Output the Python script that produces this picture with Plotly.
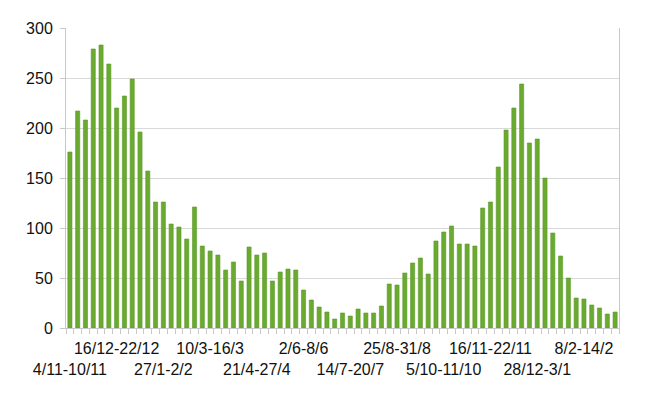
import plotly.graph_objects as go

values = [176, 217, 208, 279, 283, 264, 220, 232, 249, 196,
          157, 126, 126, 104, 101, 89, 121, 82, 77, 73,
          58, 66, 47, 81, 73, 75, 47, 56, 59, 58,
          38, 28, 21, 16, 9, 15, 12, 19, 15, 15,
          22, 44, 43, 55, 65, 70, 54, 87, 96, 102,
          84, 84, 82, 120, 126, 161, 198, 220, 244, 185,
          189, 150, 95, 72, 50, 30, 29, 23, 20, 14, 16]

tick_labels = ["4/11-10/11", "16/12-22/12", "27/1-2/2", "10/3-16/3",
               "21/4-27/4", "2/6-8/6", "14/7-20/7", "25/8-31/8",
               "5/10-11/10", "16/11-22/11", "28/12-3/1", "8/2-14/2"]
label_step = 6

x = list(range(len(values)))
tickvals = [i * label_step for i in range(len(tick_labels))]
ticktext = [("<br>" + t) if i % 2 == 0 else t for i, t in enumerate(tick_labels)]
boundaries = [i - 0.5 for i in range(len(values) + 1)]

fig = go.Figure(go.Bar(
    x=x, y=values,
    marker=dict(color="#6aaa30", line=dict(color="#5b9a26", width=0.6)),
))

fig.update_layout(
    width=650, height=393,
    margin=dict(l=66, r=31, t=28, b=65),
    paper_bgcolor="white", plot_bgcolor="white",
    bargap=0.47,
    showlegend=False,
    font=dict(family="Liberation Sans, Arial, sans-serif", size=16, color="#111"),
)
fig.update_xaxes(
    range=[-0.5, len(values) - 0.5],
    tickmode="array", tickvals=tickvals, ticktext=ticktext,
    tickangle=0, automargin=False,
    ticks="", showgrid=False,
    showline=True, linecolor="#c8c8c8", linewidth=1,
    ticklabelstandoff=6,
    minor=dict(tickmode="array", tickvals=boundaries, ticks="outside",
               ticklen=5, tickcolor="#c8c8c8", tickwidth=1, showgrid=False),
)
fig.update_yaxes(
    range=[0, 300], tickmode="linear", tick0=0, dtick=50,
    automargin=False,
    showgrid=True, gridcolor="#d9d9d9", gridwidth=1,
    showline=True, linecolor="#c8c8c8", linewidth=1, mirror=True,
    ticks="outside", ticklen=5, tickcolor="#c8c8c8",
    ticklabelstandoff=4,
    zeroline=False,
)

fig.write_html("out.html")
